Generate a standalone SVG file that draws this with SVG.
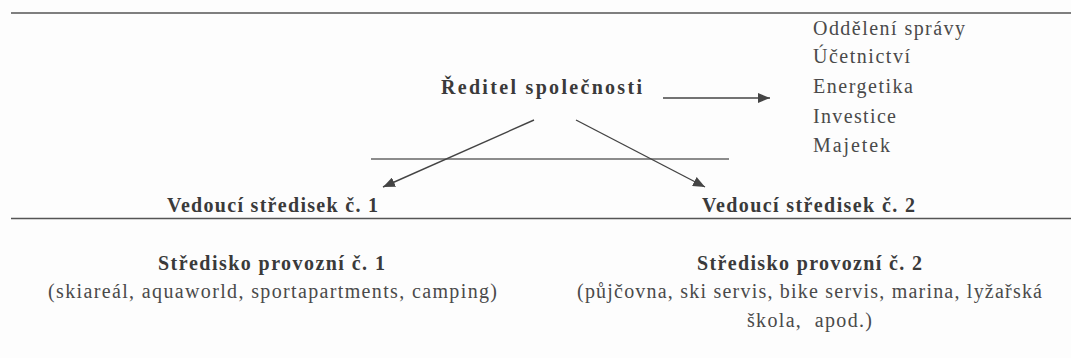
<svg xmlns="http://www.w3.org/2000/svg" width="1071" height="358" viewBox="0 0 1071 358">
<style>
text{font-family:"Liberation Serif","Times New Roman",Times,serif;font-size:20px;fill:#4a4a4a}
.b{font-weight:bold;fill:#3a3a3a}
.rule{stroke:#555;stroke-width:1.6;fill:none}
.thin{stroke:#666;stroke-width:1.3;fill:none}
.conn{stroke:#444;stroke-width:1.4;fill:none}
</style>
<defs>
<marker id="ah" viewBox="0 0 12 10" refX="12" refY="5" markerWidth="12" markerHeight="10" markerUnits="userSpaceOnUse" orient="auto">
<path d="M0,0 L12,5 L0,10 Z" fill="#444"/>
</marker>
</defs>
<rect width="1071" height="358" fill="#fdfdfd"/>
<g id="rules">
<line class="rule" x1="11" y1="13" x2="1071" y2="13"/>
<line class="thin" x1="371" y1="159" x2="729" y2="159"/>
<line class="rule" x1="11" y1="218.5" x2="1071" y2="218.5"/>
</g>
<g id="connectors">
<line class="conn" x1="663" y1="98" x2="770" y2="98" marker-end="url(#ah)"/>
<line class="conn" x1="534" y1="120" x2="383" y2="187" marker-end="url(#ah)"/>
<line class="conn" x1="576" y1="120" x2="705" y2="187" marker-end="url(#ah)"/>
</g>
<g id="reditel"><text class="b" x="441" y="94" textLength="201" lengthAdjust="spacing">Ředitel společnosti</text></g>
<g id="utvary">
<text x="813" y="35" textLength="152" lengthAdjust="spacing">Oddělení správy</text>
<text x="813" y="63" textLength="97" lengthAdjust="spacing">Účetnictví</text>
<text x="813" y="93" textLength="100" lengthAdjust="spacing">Energetika</text>
<text x="813" y="123" textLength="83" lengthAdjust="spacing">Investice</text>
<text x="813" y="152" textLength="77" lengthAdjust="spacing">Majetek</text>
</g>
<g id="vedouci1"><text class="b" x="167" y="212" textLength="211" lengthAdjust="spacing">Vedoucí středisek č. 1</text></g>
<g id="vedouci2"><text class="b" x="702" y="212" textLength="213" lengthAdjust="spacing">Vedoucí středisek č. 2</text></g>
<g id="stredisko1">
<text class="b" x="158" y="270" textLength="227" lengthAdjust="spacing">Středisko provozní č. 1</text>
<text x="48" y="298" textLength="449" lengthAdjust="spacing">(skiareál, aquaworld, sportapartments, camping)</text>
</g>
<g id="stredisko2">
<text class="b" x="697" y="270" textLength="225" lengthAdjust="spacing">Středisko provozní č. 2</text>
<text x="577" y="298" textLength="465" lengthAdjust="spacing">(půjčovna, ski servis, bike servis, marina, lyžařská</text>
<text x="747" y="327" textLength="125" lengthAdjust="spacing" xml:space="preserve">škola,  apod.)</text>
</g>
</svg>
